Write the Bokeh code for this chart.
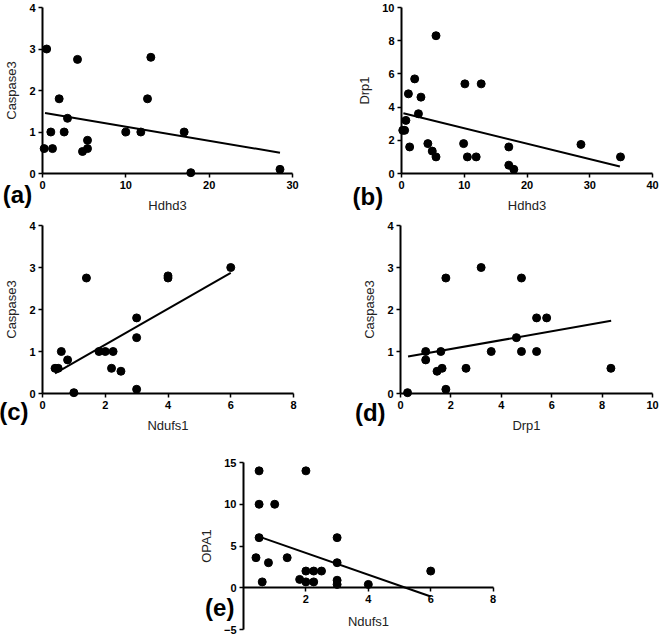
from bokeh.plotting import figure
from bokeh.layouts import column, row
from bokeh.models import FixedTicker, Spacer, Range1d
from bokeh.core.properties import value
from bokeh.embed import file_html
from bokeh.resources import INLINE

# ---------------- data ----------------
# (a) Hdhd3 vs Caspase3
a_x = [0.5, 0.2, 1.2, 1.0, 2.0, 2.6, 3.0, 4.2, 4.8, 5.4, 5.4, 10.0, 11.8, 12.6, 13.0, 17.0, 17.8, 28.5]
a_y = [3.0, 0.6, 0.6, 1.0, 1.8, 1.0, 1.33, 2.75, 0.53, 0.6, 0.8, 1.0, 1.0, 1.8, 2.8, 1.0, 0.02, 0.1]
a_fit_x = [0.3, 28.5]
a_fit_y = [1.46, 0.50]

# (b) Hdhd3 vs Drp1
b_x = [0.2, 0.5, 0.7, 1.1, 1.3, 2.1, 2.7, 3.1, 4.2, 4.9, 5.5, 5.5, 9.9, 10.1, 10.5, 11.9, 12.7, 17.1, 17.1, 17.9, 28.6, 34.9]
b_y = [2.6, 2.6, 3.2, 4.8, 1.6, 5.7, 3.6, 4.6, 1.8, 1.35, 1.0, 8.3, 1.8, 5.4, 1.0, 1.0, 5.4, 1.6, 0.5, 0.25, 1.75, 1.0]
b_fit_x = [0.3, 34.8]
b_fit_y = [3.63, 0.42]

# (c) Ndufs1 vs Caspase3
c_x = [0.4, 0.5, 0.6, 0.8, 1.0, 1.4, 1.8, 2.0, 2.25, 2.2, 2.5, 3.0, 3.0, 3.0, 4.0, 4.0, 6.0]
c_y = [0.6, 0.6, 1.0, 0.8, 0.02, 2.75, 1.0, 1.0, 1.0, 0.6, 0.53, 1.8, 1.33, 0.1, 2.8, 2.75, 3.0]
c_fit_x = [0.4, 6.0]
c_fit_y = [0.48, 2.87]

# (d) Drp1 vs Caspase3
d_x = [0.28, 1.0, 1.0, 1.45, 1.65, 1.6, 1.8, 1.8, 2.6, 3.2, 3.6, 4.6, 4.8, 4.8, 5.4, 5.4, 5.8, 8.35]
d_y = [0.02, 1.0, 0.8, 0.53, 0.6, 1.0, 0.1, 2.75, 0.6, 3.0, 1.0, 1.33, 1.0, 2.75, 1.0, 1.8, 1.8, 0.6]
d_fit_x = [0.3, 8.36]
d_fit_y = [0.88, 1.73]

# (e) Ndufs1 vs OPA1
e_x = [0.5, 0.5, 0.5, 0.4, 0.6, 0.8, 1.0, 1.4, 1.8, 2.0, 2.0, 2.0, 2.25, 2.25, 2.5, 3.0, 3.0, 3.0, 3.0, 4.0, 6.0]
e_y = [14, 10, 6, 3.6, 0.7, 3.0, 10, 3.6, 1.0, 14, 2.0, 0.7, 2.0, 0.7, 2.0, 6.0, 3.0, 0.9, 0.4, 0.4, 2.0]
e_fit_x = [0.59, 6.0]
e_fit_y = [6.0, -1.04]

# axis ticks
a_xticks = [0, 10, 20, 30]
b_xticks = [0, 10, 20, 30, 40]
nd_xticks = [0, 2, 4, 6, 8]
d_xticks = [0, 2, 4, 6, 8, 10]
e_xticks = [2, 4, 6, 8]
casp_yticks = [0, 1, 2, 3, 4]
drp_yticks = [0, 2, 4, 6, 8, 10]
opa_yticks = [-5, 0, 5, 10, 15]

FONT = "Liberation Sans"


def panel(xs, ys, fx, fy, xr, yr, xticks, yticks, xlabel, ylabel, tag, tag_xy,
          width, height, bl, br, bt, bb, fixed_x=False, x_bounds=None,
          xlabel_standoff=6):
    p = figure(width=width, height=height,
               x_range=Range1d(*xr), y_range=Range1d(*yr),
               output_backend="svg", toolbar_location=None,
               min_border_left=bl, min_border_right=br,
               min_border_top=bt, min_border_bottom=bb)
    p.outline_line_color = None
    p.grid.visible = False
    p.background_fill_color = "white"
    p.border_fill_color = "white"

    for ax in (p.xaxis[0], p.yaxis[0]):
        ax.axis_line_width = 2
        ax.axis_line_color = "black"
        ax.major_tick_line_width = 1.5
        ax.major_tick_line_color = "black"
        ax.major_tick_in = 0
        ax.major_tick_out = 4
        ax.minor_tick_line_color = None
        ax.major_label_text_font = FONT
        ax.major_label_text_font_style = "bold"
        ax.major_label_text_font_size = "11px"
        ax.major_label_text_color = "black"
        ax.axis_label_text_font = FONT
        ax.axis_label_text_font_style = "normal"
        ax.axis_label_text_font_size = "13px"
        ax.axis_label_text_color = "#222222"
    p.xaxis[0].ticker = FixedTicker(ticks=xticks)
    p.yaxis[0].ticker = FixedTicker(ticks=yticks)
    p.xaxis[0].axis_label = xlabel
    p.yaxis[0].axis_label = ylabel
    p.xaxis[0].major_label_standoff = 3
    p.yaxis[0].major_label_standoff = 3
    p.xaxis[0].axis_label_standoff = xlabel_standoff
    p.yaxis[0].axis_label_standoff = 7
    if fixed_x:
        p.xaxis[0].fixed_location = 0
    if x_bounds is not None:
        p.xaxis[0].bounds = x_bounds

    p.line(fx, fy, line_color="black", line_width=2)
    p.scatter(xs, ys, size=8, fill_color="black", line_color="black",
              level="annotation")

    # panel tag, placed just outside the frame (unclipped)
    p.text(x=[tag_xy[0]], y=[tag_xy[1]], text=[tag],
           text_font=value(FONT), text_font_style="bold",
           text_font_size="24px", text_color="black",
           text_align="center", text_baseline="middle",
           level="annotation")
    return p


pa = panel(a_x, a_y, a_fit_x, a_fit_y, (0, 30), (0, 4), a_xticks, casp_yticks,
           "Hdhd3", "Caspase3", "(a)", (-3.0, -0.5),
           330, 215, 42, 38, 7, 41)
pb = panel(b_x, b_y, b_fit_x, b_fit_y, (0, 40), (0, 10), b_xticks, drp_yticks,
           "Hdhd3", "Drp1", "(b)", (-5.35, -1.38),
           330, 215, 71, 8, 7, 41)
pc = panel(c_x, c_y, c_fit_x, c_fit_y, (0, 8), (0, 4), nd_xticks, casp_yticks,
           "Ndufs1", "Caspase3", "(c)", (-0.91, -0.43),
           330, 225, 42, 37, 10, 47)
pd = panel(d_x, d_y, d_fit_x, d_fit_y, (0, 10), (0, 4), d_xticks, casp_yticks,
           "Drp1", "Caspase3", "(d)", (-1.2, -0.45),
           330, 225, 70, 8, 10, 47)
pe = panel(e_x, e_y, e_fit_x, e_fit_y, (0, 8.3), (-5, 15), e_xticks, opa_yticks,
           "Ndufs1", "OPA1", "(e)", (-0.76, -2.42),
           322, 195, 53, 10, 22, 6, fixed_x=True, x_bounds=(0, 8),
           xlabel_standoff=8)

layout = column(
    row(pa, pb),
    row(pc, pd),
    row(Spacer(width=190, height=195), pe),
)

open("out.html", "w").write(file_html(layout, INLINE))
